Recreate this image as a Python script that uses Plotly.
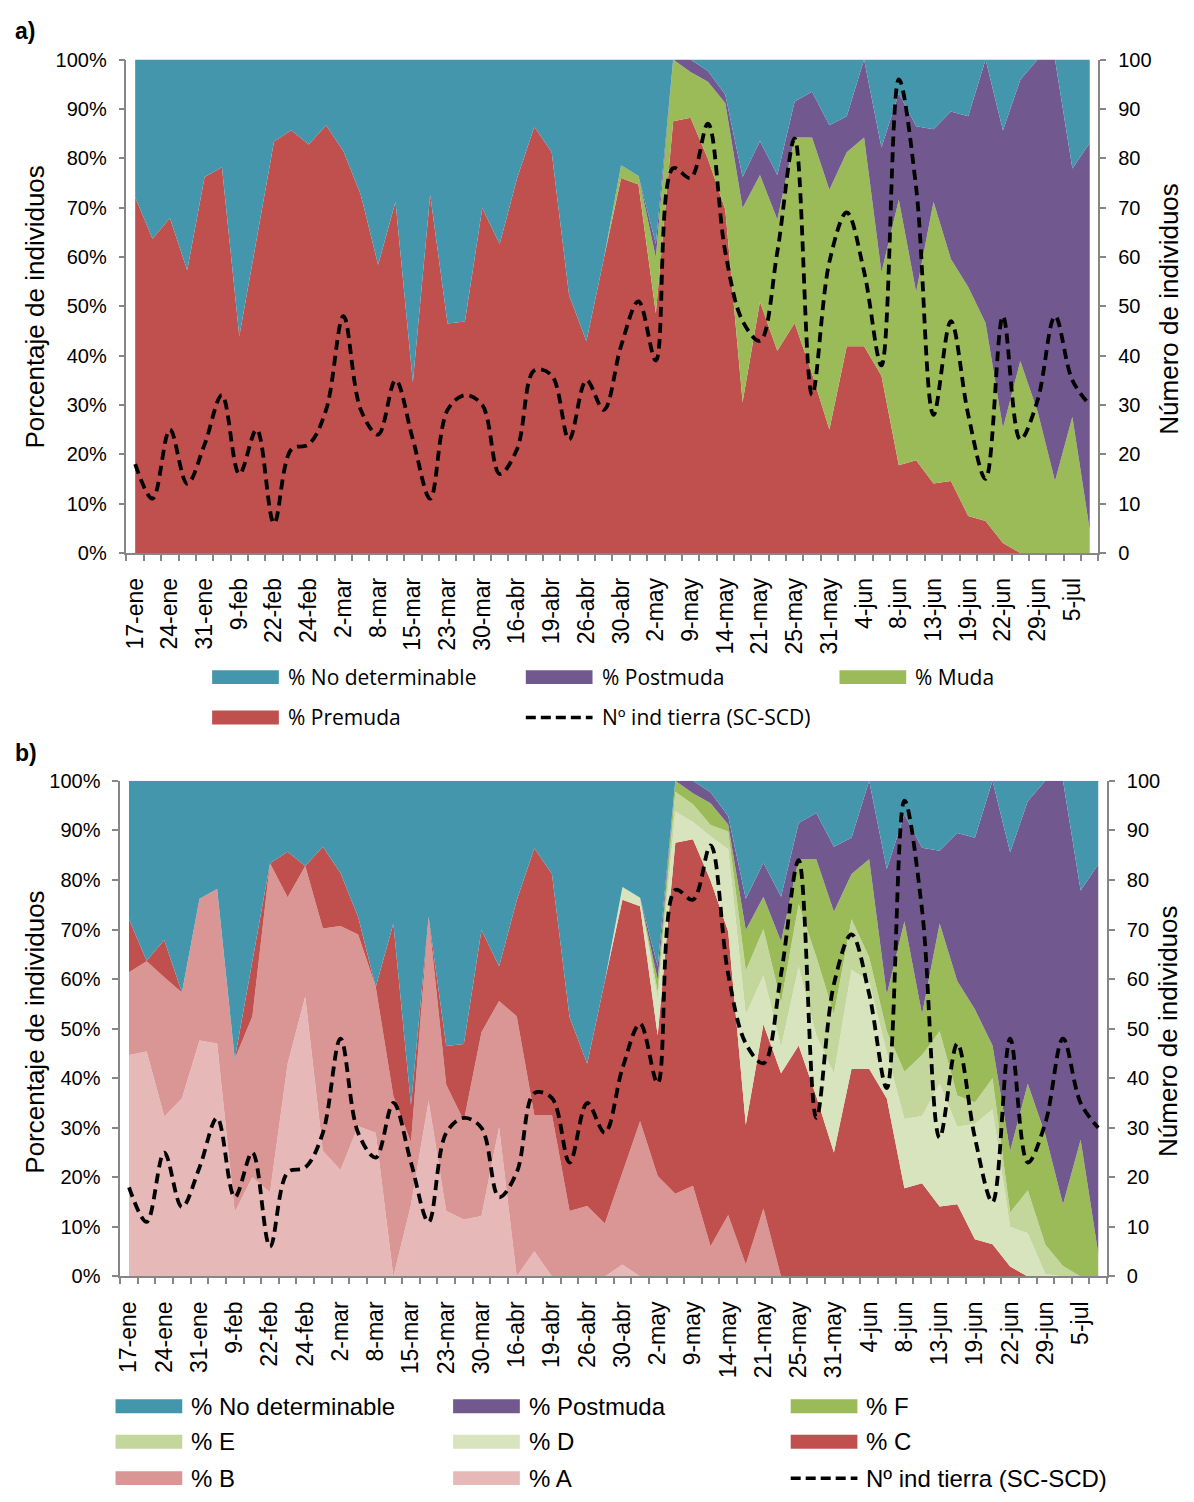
import plotly.graph_objects as go

# ---------------- data ----------------
tick_labels = ["17-ene", "24-ene", "31-ene", "9-feb", "22-feb", "24-feb", "2-mar", "8-mar",
               "15-mar", "23-mar", "30-mar", "16-abr", "19-abr", "26-abr", "30-abr", "2-may",
               "9-may", "14-may", "21-may", "25-may", "31-may", "4-jun", "8-jun", "13-jun",
               "19-jun", "22-jun", "29-jun", "5-jul"]
n_points = 56
x_idx = list(range(n_points))
tick_pos = list(range(0, n_points, 2))

# Panel a (% of individuals)
premuda = [72.1, 63.7, 67.9, 57.3, 76.2, 78.2, 43.9, 63.4, 83.4, 85.7,
           82.8, 86.7, 81.4, 72.6, 58.4, 71.2, 34.6, 72.6, 46.5, 46.9,
           69.9, 62.6, 75.9, 86.4, 81.2, 52.3, 42.9, 59.6, 76.0, 74.7,
           48.6, 87.5, 88.2, 79.9, 69.6, 30.6, 50.9, 41.0, 46.6, 36.3,
           25.0, 41.9, 41.9, 35.9, 17.8, 18.8, 14.1, 14.6, 7.5, 6.5,
           2.0, 0, 0, 0, 0, 0]
muda = [0, 0, 0, 0, 0, 0, 0, 0, 0, 0,
        0, 0, 0, 0, 0, 0, 0, 0, 0, 0,
        0, 0, 0, 0, 0, 0, 0, 0, 2.6, 1.7,
        11.3, 12.5, 9.3, 15.6, 21.6, 39.3, 25.7, 26.6, 37.6, 47.9,
        48.6, 39.3, 42.3, 21.0, 53.8, 34.1, 57.1, 45.0, 46.4, 40.1,
        23.3, 38.9, 28.6, 14.6, 27.6, 4.7]
postmuda = [0, 0, 0, 0, 0, 0, 0, 0, 0, 0,
            0, 0, 0, 0, 0, 0, 0, 0, 0, 0,
            0, 0, 0, 0, 0, 0, 0, 0, 0, 0,
            2.7, 0, 2.5, 2.2, 1.7, 6.3, 6.9, 9.0, 7.3, 9.3,
            13.1, 7.3, 15.8, 25.3, 21.6, 33.6, 14.7, 29.9, 34.6, 53.4,
            60.3, 57.0, 71.4, 85.4, 50.3, 78.4]
no_det = [27.9, 36.3, 32.1, 42.7, 23.8, 21.8, 56.1, 36.6, 16.6, 14.3,
          17.2, 13.3, 18.6, 27.4, 41.6, 28.8, 65.4, 27.4, 53.5, 53.1,
          30.1, 37.4, 24.1, 13.6, 18.8, 47.7, 57.1, 40.4, 21.4, 23.6,
          37.4, 0, 0, 2.3, 7.1, 23.8, 16.5, 23.4, 8.5, 6.5,
          13.3, 11.5, 0, 17.8, 6.8, 13.5, 14.1, 10.5, 11.5, 0,
          14.4, 4.1, 0, 0, 22.1, 16.9]

# Panel b: stages
stage_a = [44.7, 45.4, 32.3, 35.9, 47.6, 47.0, 13.0, 20.0, 17.0, 42.9,
           56.5, 25.3, 21.5, 30.3, 29.0, 0, 14.5, 35.4, 13.2, 11.5,
           12.2, 30.1, 0, 5.1, 0, 0, 0, 0, 2.4, 0,
           0, 0, 0, 0, 0, 0, 0, 0, 0, 0,
           0, 0, 0, 0, 0, 0, 0, 0, 0, 0,
           0, 0, 0, 0, 0, 0]
stage_b = [16.7, 18.2, 28.1, 21.4, 28.6, 31.2, 30.9, 32.5, 66.4, 33.6,
           26.3, 44.9, 49.2, 38.7, 29.4, 36.4, 12.6, 37.2, 25.5, 19.9,
           37.1, 25.5, 52.5, 27.5, 32.6, 13.2, 14.2, 10.7, 18.6, 31.3,
           20.3, 16.7, 18.3, 6.1, 12.4, 2.4, 13.7, 0, 0, 0,
           0, 0, 0, 0, 0, 0, 0, 0, 0, 0,
           0, 0, 0, 0, 0, 0]
stage_c = [10.7, 0.1, 7.5, 0, 0, 0, 0, 10.9, 0, 9.2,
           0, 16.5, 10.7, 3.6, 0, 34.8, 7.5, 0, 7.8, 15.5,
           20.6, 7.0, 23.4, 53.8, 48.6, 39.1, 28.7, 48.9, 55.0, 43.4,
           28.3, 70.8, 69.9, 73.8, 57.2, 28.2, 37.2, 41.0, 46.6, 36.3,
           25.0, 41.9, 41.9, 35.9, 17.8, 18.8, 14.1, 14.6, 7.5, 6.5,
           2.0, 0, 0, 0, 0, 0]
stage_d = [0, 0, 0, 0, 0, 0, 0, 0, 0, 0,
           0, 0, 0, 0, 0, 0, 0, 0, 0, 0,
           0, 0, 0, 0, 0, 0, 0, 0, 2.6, 1.7,
           7.4, 6.3, 3.5, 8.9, 16.6, 22.2, 9.9, 5.3, 15.9, 12.3,
           15.9, 20.0, 17.6, 9.3, 14.0, 13.6, 24.8, 15.6, 23.3, 27.2,
           8.0, 8.7, 0.5, 0, 0, 0]
stage_e = [0, 0, 0, 0, 0, 0, 0, 0, 0, 0,
           0, 0, 0, 0, 0, 0, 0, 0, 0, 0,
           0, 0, 0, 0, 0, 0, 0, 0, 0, 0,
           1.5, 4.0, 3.6, 2.3, 3.6, 8.9, 9.3, 9.0, 12.6, 15.9,
           12.0, 10.2, 4.9, 4.3, 9.5, 12.3, 10.6, 6.3, 4.3, 6.3,
           2.9, 8.7, 5.9, 2.1, 0, 0]
stage_f = [0, 0, 0, 0, 0, 0, 0, 0, 0, 0,
           0, 0, 0, 0, 0, 0, 0, 0, 0, 0,
           0, 0, 0, 0, 0, 0, 0, 0, 0, 0,
           2.4, 2.2, 2.2, 4.4, 1.4, 8.2, 6.5, 12.3, 9.1, 19.7,
           20.7, 9.1, 19.8, 7.4, 30.3, 8.2, 21.7, 23.1, 18.8, 6.6,
           12.4, 21.5, 22.2, 12.5, 27.6, 4.7]

# Number of individuals on land (SC-SCD)
n_ind = [18, 11, 25, 14, 22, 32, 16, 25, 6, 21,
         22, 29, 48, 29, 24, 35, 23, 11, 29, 32,
         30, 16, 21, 37, 36, 23, 35, 29, 42, 51,
         39, 78, 76, 87, 61, 47, 43, 61, 84, 32,
         59, 69, 57, 38, 96, 74, 28, 47, 28, 15,
         48, 23, 31, 48, 35, 30]

# ---------------- style ----------------
W, H = 1194, 1502
C_TEAL = "#4496AD"
C_PURPLE = "#71588F"
C_GREEN = "#9BBB59"
C_E = "#C3D69B"
C_D = "#D7E4BD"
C_RED = "#C0504D"
C_B = "#D99694"
C_A = "#E6B9B8"
AXC = "#868686"
FONT = "Liberation Sans, Arial, sans-serif"


def fx(px):
    return px / W


def fy(py):
    return 1 - py / H


fig = go.Figure()


def area(y, name, color, xa, ya, group):
    fig.add_trace(go.Scatter(
        x=x_idx, y=y, name=name, mode="lines", stackgroup=group, groupnorm="percent",
        line=dict(width=0, color=color), fillcolor=color, xaxis=xa, yaxis=ya,
        showlegend=False))


# panel a
area(premuda, "% Premuda", C_RED, "x", "y", "a")
area(muda, "% Muda", C_GREEN, "x", "y", "a")
area(postmuda, "% Postmuda", C_PURPLE, "x", "y", "a")
area(no_det, "% No determinable", C_TEAL, "x", "y", "a")
fig.add_trace(go.Scatter(x=x_idx, y=n_ind, name="Nº ind tierra (SC-SCD)", mode="lines",
                         line=dict(color="black", width=3.8, dash="10px,6px", shape="spline",
                                   smoothing=1.0),
                         xaxis="x", yaxis="y2", showlegend=False))

# panel b
area(stage_a, "% A", C_A, "x2", "y3", "b")
area(stage_b, "% B", C_B, "x2", "y3", "b")
area(stage_c, "% C", C_RED, "x2", "y3", "b")
area(stage_d, "% D", C_D, "x2", "y3", "b")
area(stage_e, "% E", C_E, "x2", "y3", "b")
area(stage_f, "% F", C_GREEN, "x2", "y3", "b")
area(postmuda, "% Postmuda", C_PURPLE, "x2", "y3", "b")
area(no_det, "% No determinable", C_TEAL, "x2", "y3", "b")
fig.add_trace(go.Scatter(x=x_idx, y=n_ind, name="Nº ind tierra (SC-SCD)", mode="lines",
                         line=dict(color="black", width=3.8, dash="10px,6px", shape="spline",
                                   smoothing=1.0),
                         xaxis="x2", yaxis="y4", showlegend=False))


def xaxis_cfg(left, right, anchor):
    return dict(domain=[fx(left), fx(right)], anchor=anchor, range=[-0.5, n_points - 0.5],
                tickmode="array", tickvals=tick_pos, ticktext=tick_labels, tickangle=-90,
                ticks="", ticklabelstandoff=14,
                tickfont=dict(family=FONT, size=23, color="black"),
                minor=dict(tick0=-0.5, dtick=1, ticks="outside", ticklen=6, tickwidth=1.5,
                           tickcolor=AXC),
                showline=True, linecolor=AXC, linewidth=1.5, showgrid=False, zeroline=False,
                fixedrange=True)


def yaxis_cfg(top, bottom, anchor, right=False, overlay=None):
    d = dict(domain=[fy(bottom), fy(top)], anchor=anchor, range=[0, 100],
             tickmode="linear", tick0=0, dtick=10, ticks="outside", ticklen=6, tickwidth=1.5,
             tickcolor=AXC, ticklabelstandoff=8,
             tickfont=dict(family=FONT, size=20, color="black"),
             showline=True, linecolor=AXC, linewidth=1.5, showgrid=False, zeroline=False,
             fixedrange=True)
    if right:
        d.update(side="right", overlaying=overlay)
    else:
        d.update(ticksuffix="%")
    return d


fig.update_layout(
    width=W, height=H, margin=dict(l=0, r=0, t=0, b=0),
    paper_bgcolor="white", plot_bgcolor="rgba(0,0,0,0)", showlegend=False,
    xaxis=xaxis_cfg(122, 1098, "y"),
    yaxis=yaxis_cfg(49.3, 550, "x"),
    yaxis2=yaxis_cfg(49.3, 550, "x", right=True, overlay="y"),
    xaxis2=xaxis_cfg(115.7, 1106.7, "y3"),
    yaxis3=yaxis_cfg(781.3, 1284.3, "x2"),
    yaxis4=yaxis_cfg(781.3, 1284.3, "x2", right=True, overlay="y3"),
)

annotations = []
shapes = []


def text(px, py, s, size, xanchor="left", angle=0, bold=False, family=FONT):
    annotations.append(dict(x=fx(px), y=fy(py), xref="paper", yref="paper", text=s,
                            showarrow=False, xanchor=xanchor, yanchor="middle",
                            textangle=angle,
                            font=dict(family=family, size=size, color="black",
                                      weight="bold" if bold else "normal")))


# panel labels and axis titles
text(8, 20, "a)", 23, bold=True)
text(8, 753, "b)", 23, bold=True)
text(30, 300, "Porcentaje de individuos", 26, xanchor="center", angle=-90)
text(1168, 303, "Número de individuos", 26, xanchor="center", angle=-90)
text(30, 1036, "Porcentaje de individuos", 26, xanchor="center", angle=-90)
text(1168, 1036, "Número de individuos", 26, xanchor="center", angle=-90)


def legend_box(x0, yc, color, label, size, family):
    shapes.append(dict(type="rect", xref="paper", yref="paper", x0=fx(x0), x1=fx(x0 + 67),
                       y0=fy(yc + 7), y1=fy(yc - 7), fillcolor=color, line=dict(width=0)))
    text(x0 + 74, yc, label, size, family=family)


def legend_line(x0, yc, label, size, family):
    shapes.append(dict(type="line", xref="paper", yref="paper", x0=fx(x0), x1=fx(x0 + 67),
                       y0=fy(yc), y1=fy(yc), line=dict(color="black", width=3.5, dash="10px,5px")))
    text(x0 + 74, yc, label, size, family=family)


LA_FONT = "Open Sans, sans-serif"
legend_box(208, 676, C_TEAL, "% No determinable", 21, LA_FONT)
legend_box(523, 676, C_PURPLE, "% Postmuda", 21, LA_FONT)
legend_box(838, 676, C_GREEN, "% Muda", 21, LA_FONT)
legend_box(208, 717, C_RED, "% Premuda", 21, LA_FONT)
legend_line(523, 717, "Nº ind tierra (SC-SCD)", 21, LA_FONT)

legend_box(111, 1416, C_TEAL, "% No determinable", 24, FONT)
legend_box(450, 1416, C_PURPLE, "% Postmuda", 24, FONT)
legend_box(789, 1416, C_GREEN, "% F", 24, FONT)
legend_box(111, 1452, C_E, "% E", 24, FONT)
legend_box(450, 1452, C_D, "% D", 24, FONT)
legend_box(789, 1452, C_RED, "% C", 24, FONT)
legend_box(111, 1489, C_B, "% B", 24, FONT)
legend_box(450, 1489, C_A, "% A", 24, FONT)
legend_line(789, 1489, "Nº ind tierra (SC-SCD)", 24, FONT)

fig.update_layout(annotations=annotations, shapes=shapes)
fig.write_html("out.html")
